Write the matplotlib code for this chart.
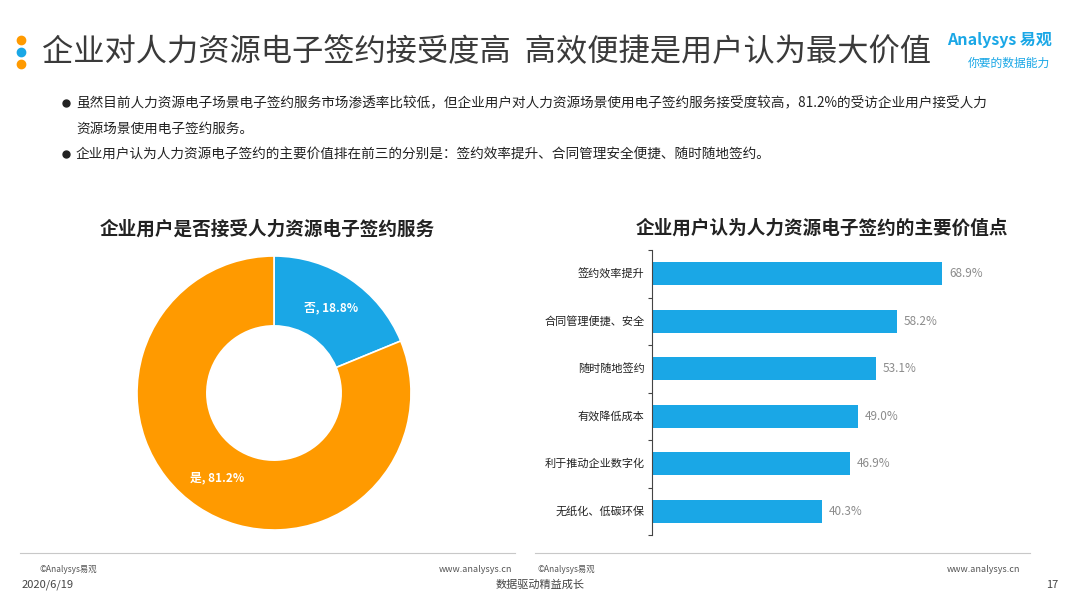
import numpy as np
import matplotlib.pyplot as plt

plt.rcParams['font.family'] = ['Noto Sans CJK SC', 'DejaVu Sans']

title = '企业对人力资源电子签约接受度高  高效便捷是用户认为最大价值'
bullets = [
    '虽然目前人力资源电子场景电子签约服务市场渗透率比较低，但企业用户对人力资源场景使用电子签约服务接受度较高，81.2%的受访企业用户接受人力',
    '资源场景使用电子签约服务。',
    '企业用户认为人力资源电子签约的主要价值排在前三的分别是：签约效率提升、合同管理安全便捷、随时随地签约。',
]

pie_title = '企业用户是否接受人力资源电子签约服务'
pie_labels = ['否', '是']
pie_values = [18.8, 81.2]

bar_title = '企业用户认为人力资源电子签约的主要价值点'
bar_cats = ['签约效率提升', '合同管理便捷、安全', '随时随地签约', '有效降低成本', '利于推动企业数字化', '无纸化、低碳环保']
bar_values = [68.9, 58.2, 53.1, 49.0, 46.9, 40.3]

BLUE = '#1aa7e6'
ORANGE = '#ff9a00'
W, H = 1080, 608

fig = plt.figure(figsize=(10.8, 6.08), dpi=100)

def fx(x):
    return x / W

def fy(y):
    return 1 - y / H

# header
for yy, c in zip([40, 52, 64], [ORANGE, BLUE, ORANGE]):
    fig.add_artist(plt.Line2D([fx(21)], [fy(yy)], marker='o', markersize=6, color=c,
                              linestyle='none'))
fig.text(fx(42), fy(52), title, fontsize=22.5, color='#3a3a3a', va='center', ha='left')
fig.text(fx(1052), fy(40), 'Analysys 易观', fontsize=11.5, color=BLUE, ha='right', va='center',
         fontweight='bold')
fig.text(fx(1050), fy(63), '你要的数据能力', fontsize=8.5, color=BLUE, ha='right', va='center',
         style='italic')

# bullet points
for yy in [103, 154]:
    fig.add_artist(plt.Line2D([fx(66)], [fy(yy)], marker='o', markersize=5, color='#222222',
                              linestyle='none'))
fig.text(fx(76), fy(103), bullets[0], fontsize=9.8, color='#222222', va='center')
fig.text(fx(76), fy(129), bullets[1], fontsize=9.8, color='#222222', va='center')
fig.text(fx(76), fy(154), bullets[2], fontsize=9.8, color='#222222', va='center')

# donut chart
fig.text(fx(267), fy(229), pie_title, fontsize=13.4, fontweight='bold', color='#222222',
         ha='center', va='center')
ax1 = fig.add_axes([fx(137), fy(530), 274 / W, 274 / H])
wedges, _ = ax1.pie(pie_values, colors=[BLUE, ORANGE], startangle=90, counterclock=False,
                    radius=1, wedgeprops=dict(width=0.51, edgecolor='white', linewidth=1.2))
ax1.set_xlim(-1, 1)
ax1.set_ylim(-1, 1)
ax1.set_aspect('equal')
for w, lab, v in zip(wedges, pie_labels, pie_values):
    ang = np.deg2rad((w.theta1 + w.theta2) / 2)
    r = 0.745
    ax1.text(r * np.cos(ang), r * np.sin(ang), f'{lab}, {v}%', color='white', fontsize=8.5,
             fontweight='bold', ha='center', va='center')

# bar chart
fig.text(fx(822), fy(228), bar_title, fontsize=13.4, fontweight='bold', color='#222222',
         ha='center', va='center')
ax2 = fig.add_axes([fx(652), fy(535), 337 / W, 285 / H])
ypos = np.arange(len(bar_cats))
ax2.barh(ypos, bar_values, height=0.49, color=BLUE)
ax2.set_xlim(0, 80)
ax2.set_ylim(len(bar_cats) - 0.5, -0.5)
for y, v in zip(ypos, bar_values):
    ax2.text(v + 1.6, y, f'{v:.1f}%', va='center', ha='left', fontsize=8.5, color='#8c8c8c')
for y, c in zip(ypos, bar_cats):
    ax2.text(-1.8, y, c, va='center', ha='right', fontsize=8, color='#222222')
for s in ['top', 'right', 'bottom']:
    ax2.spines[s].set_visible(False)
ax2.spines['left'].set_color('#444444')
ax2.spines['left'].set_linewidth(0.8)
ax2.set_xticks([])
ax2.set_yticks(np.arange(-0.5, len(bar_cats), 1))
ax2.set_yticklabels([])
ax2.tick_params(axis='y', length=3, width=0.8, color='#444444', direction='out')

# footer
fig.add_artist(plt.Line2D([fx(20), fx(515)], [fy(553), fy(553)], color='#c8c8c8', lw=0.8))
fig.add_artist(plt.Line2D([fx(535), fx(1030)], [fy(553), fy(553)], color='#c8c8c8', lw=0.8))
fig.text(fx(40), fy(569), '©Analysys易观', fontsize=6, color='#555555', va='center')
fig.text(fx(512), fy(569), 'www.analysys.cn', fontsize=6.5, color='#555555', va='center', ha='right')
fig.text(fx(537), fy(569), '©Analysys易观', fontsize=6, color='#555555', va='center')
fig.text(fx(1020), fy(569), 'www.analysys.cn', fontsize=6.5, color='#555555', va='center', ha='right')
fig.text(fx(22), fy(585), '2020/6/19', fontsize=8, color='#444444', va='center')
fig.text(fx(540), fy(585), '数据驱动精益成长', fontsize=8, color='#444444', va='center', ha='center')
fig.text(fx(1058), fy(585), '17', fontsize=8, color='#444444', va='center', ha='right')

fig.savefig('out.png', dpi=100)
